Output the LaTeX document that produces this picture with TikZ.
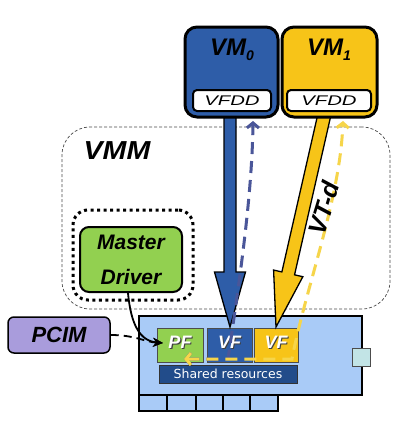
\documentclass[tikz,border=0pt]{standalone}
\usepackage{fontspec}
\usepackage{graphicx}
\setmainfont{Liberation Sans}
\newfontfamily\dejavu{DejaVu Sans}
\usetikzlibrary{calc,arrows.meta}
\definecolor{vmblue}{HTML}{2E5DA8}
\definecolor{vmyellow}{HTML}{F7C418}
\definecolor{mdgreen}{HTML}{92D050}
\definecolor{pcimpurple}{HTML}{A99CDC}
\definecolor{devblue}{HTML}{A9CBF7}
\definecolor{shdblue}{HTML}{224C8A}
\definecolor{portcyan}{HTML}{C2E4E6}
\definecolor{dashblue}{HTML}{4A5699}
\definecolor{dashyellow}{HTML}{F6D54A}
\tikzset{
  bi/.style={font=\bfseries\itshape},
  vmbox/.style={draw=black, line width=3pt, rounded corners=12pt, inner sep=0pt},
  vfddbox/.style={draw=black, fill=white, line width=2pt, rounded corners=4pt, inner sep=0pt,
    font=\fontsize{14}{14}\selectfont\itshape},
  fnbox/.style={draw=black!70, line width=0.8pt, inner sep=0pt},
  fntext/.style={text=white, font=\fontsize{18}{18}\selectfont\bfseries\itshape, inner sep=0pt},
  fnshadow/.style={text=black!75, font=\fontsize{18}{18}\selectfont\bfseries\itshape, inner sep=0pt},
  slotbox/.style={draw=black, fill=devblue, line width=1.5pt, inner sep=0pt, minimum height=16pt},
  fatarrow/.style={draw=black, line width=1.3pt, line join=miter},
  dashconn/.style={line width=3pt, dash pattern=on 12pt off 7pt,
    {Straight Barb[length=5pt,width=12pt]}-{Straight Barb[length=5pt,width=12pt]}},
  blackarrow/.style={draw=black, line width=1.8pt, -{Stealth[length=10pt,width=9pt]}}
}
\begin{document}
\begin{tikzpicture}[x=1pt,y=-1pt]
\useasboundingbox[fill=white] (0,0) rectangle (400,424);

% VMM region
\node[draw=black!70, line width=0.7pt, dash pattern=on 3pt off 2pt, rounded corners=28pt,
  minimum width=328pt, minimum height=182pt, inner sep=0pt] (vmm) at (226,218) {};
\node[bi, anchor=base, inner sep=0pt] (vmmt) at (117,159)
  {\fontsize{26}{26}\selectfont\scalebox{1.1}[1]{VMM}};

% Master driver
\node[draw=black, line width=3pt, dash pattern=on 3pt off 3.5pt, rounded corners=15pt,
  minimum width=120pt, minimum height=90pt, inner sep=0pt] (mdz) at (133,255) {};
\node[draw=black, fill=mdgreen, line width=2pt, rounded corners=9pt,
  minimum width=102pt, minimum height=65pt, inner sep=0pt, align=center,
  font=\fontsize{21}{35}\selectfont\bfseries\itshape] (md) at (131,259.5) {Master\\Driver};

% PCIM
\node[draw=black, fill=pcimpurple, line width=1.5pt, rounded corners=6pt,
  minimum width=102pt, minimum height=36pt, inner sep=0pt,
  font=\fontsize{22}{22}\selectfont\bfseries\itshape] (pcim) at (59,335) {PCIM};

% Device
\node[slotbox, minimum width=28pt] (s1) at (153,403) {};
\node[slotbox, minimum width=29pt] (s2) at (181.5,403) {};
\node[slotbox, minimum width=27pt] (s3) at (209.5,403) {};
\node[slotbox, minimum width=27pt] (s4) at (236.5,403) {};
\node[slotbox, minimum width=28pt] (s5) at (264,403) {};
\node[draw=black, fill=devblue, line width=2pt, minimum width=223pt, minimum height=79pt,
  inner sep=0pt] (dev) at (250.5,355.5) {};
\node[draw=black!70, fill=portcyan, line width=1pt, minimum width=18pt, minimum height=18pt,
  inner sep=0pt] (port) at (361,357) {};

\node[fnbox, fill=mdgreen, minimum width=46pt, minimum height=34pt] (pf) at (180,345) {};
\node[fnbox, fill=vmblue, minimum width=45pt, minimum height=34pt] (vfb) at (229.5,345) {};
\node[fnbox, fill=vmyellow, minimum width=44pt, minimum height=34pt] (vfy) at (276,345) {};
\foreach \n/\t in {pf/PF, vfb/VF, vfy/VF}{
  \node[fnshadow] at ($(\n.center)+(1.2,-1.8)$) {\t};
  \node[fntext] (\n t) at ($(\n.center)+(0,-3)$) {\t};
}
\node[draw=black!80, fill=shdblue, line width=1pt, minimum width=138pt, minimum height=18pt,
  inner sep=0pt, text=white, font=\dejavu\fontsize{12.5}{12.5}\selectfont] (shr) at (228,374)
  {Shared resources};

% Fat arrows
\coordinate (s0) at (230,112);
\coordinate (t0) at (230,327);
\coordinate (h0) at ($(t0)!55pt!(s0)$);
\draw[fatarrow, fill=vmblue] ($(s0)!6pt!90:(t0)$) -- ($(h0)!6pt!90:(t0)$) -- ($(h0)!15.5pt!90:(t0)$)
  -- (t0) -- ($(h0)!15.5pt!-90:(t0)$) -- ($(h0)!6pt!-90:(t0)$) -- ($(s0)!6pt!-90:(t0)$) -- cycle;
\coordinate (s1a) at (325,112);
\coordinate (t1) at (276,327);
\coordinate (h1) at ($(t1)!55pt!(s1a)$);
\draw[fatarrow, fill=vmyellow] ($(s1a)!6.5pt!90:(t1)$) -- ($(h1)!6.5pt!90:(t1)$) -- ($(h1)!15pt!90:(t1)$)
  -- (t1) -- ($(h1)!15pt!-90:(t1)$) -- ($(h1)!6.5pt!-90:(t1)$) -- ($(s1a)!6.5pt!-90:(t1)$) -- cycle;

% VMs
\node[vmbox, fill=vmblue, minimum width=93pt, minimum height=90pt] (vm0) at (231.5,72) {};
\node[vmbox, fill=vmyellow, minimum width=95pt, minimum height=90pt] (vm1) at (329.5,72) {};
\node[vfddbox, minimum width=78pt, minimum height=21pt] (vfdd0) at (232,100.5) {\scalebox{1.45}[1]{VFDD}};
\node[vfddbox, minimum width=84pt, minimum height=21pt] (vfdd1) at (329,100.5) {\scalebox{1.45}[1]{VFDD}};
\node[anchor=base, inner sep=0pt, font=\fontsize{24}{24}\selectfont\bfseries\itshape] (vm0t) at (232,55)
  {VM\raisebox{-5pt}{\fontsize{14}{14}\selectfont 0}};
\node[anchor=base, inner sep=0pt, font=\fontsize{24}{24}\selectfont\bfseries\itshape] (vm1t) at (329,55)
  {VM\raisebox{-5pt}{\fontsize{14}{14}\selectfont 1}};

% Dashed connectors
\coordinate (pfd) at (184,359);
\coordinate (bc) at (228,359);
\coordinate (yc) at (292,359);
\coordinate (bt) at (253,121);
\coordinate (yt) at (343,121);
\draw[dashconn, dashblue] (pfd) -- (bc) .. controls (238,290) and (252,200) .. (bt);
\draw[dashconn, dashyellow] (pfd) -- (yc) .. controls (305,290) and (340,200) .. (yt);

% VT-d label
\node[rotate=73, inner sep=0pt, font=\fontsize{25}{25}\selectfont\bfseries\itshape] (vtd) at (324,208) {VT-d};

% Black arrows
\coordinate (pfin) at (163,343);
\draw[blackarrow] ($(md.south)+(-3,0)$) .. controls (131,325) and (140,341) .. (pfin);
\draw[blackarrow, dash pattern=on 8pt off 5pt] (pcim.east) .. controls (135,335) and (145,342) .. (pfin);
\end{tikzpicture}
\end{document}
